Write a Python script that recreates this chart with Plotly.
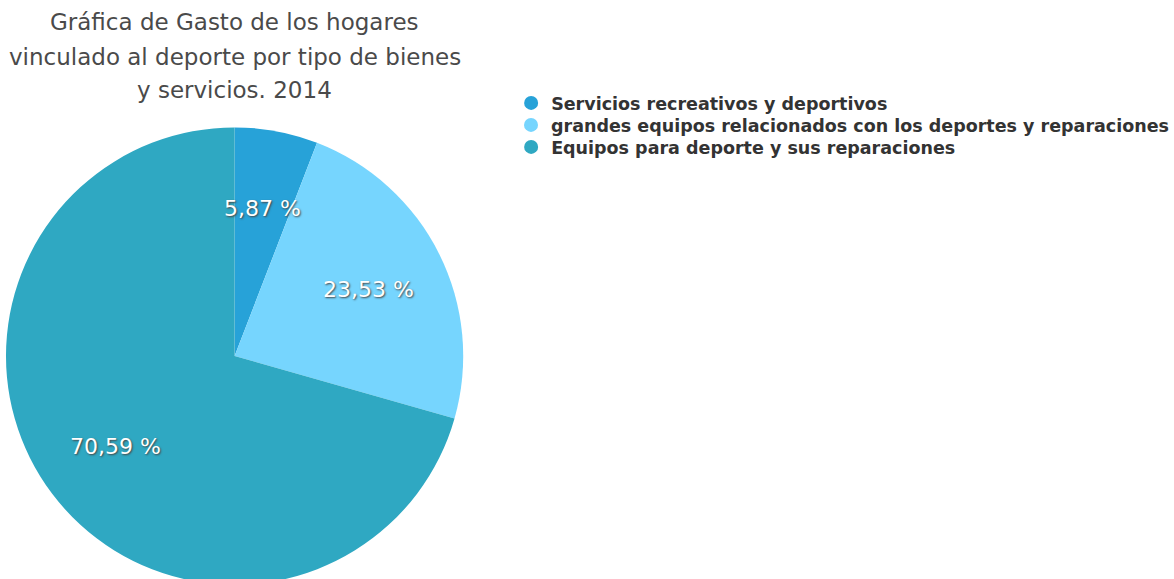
import math
import plotly.graph_objects as go

categories = [
    "Servicios recreativos y deportivos",
    "grandes equipos relacionados con los deportes y reparaciones",
    "Equipos para deporte y sus reparaciones",
]
values = [5.87, 23.53, 70.59]
labels_text = ["5,87 %", "23,53 %", "70,59 %"]
colors = ["#27A2D8", "#76D5FE", "#2FA8C2"]
title_lines = [
    "Gráfica de Gasto de los hogares",
    "vinculado al deporte por tipo de bienes",
    "y servicios. 2014",
]

W, H = 1174, 586
FONT = "DejaVu Sans, Liberation Sans, Arial, sans-serif"

# pie geometry (pixels)
CX, CY, R = 235, 356, 229

fig = go.Figure()
fig.add_trace(go.Pie(
    labels=categories,
    values=values,
    textinfo="none",
    sort=False,
    direction="clockwise",
    rotation=0,
    marker=dict(colors=colors, line=dict(width=0)),
    showlegend=False,
    hoverinfo="label+percent",
    domain=dict(x=[(CX - R) / W, (CX + R) / W], y=[(H - CY - R) / H, (H - CY + R) / H]),
))

# slice labels placed at the angular middle of each slice
total = sum(values)
cum = 0.0
for v, t in zip(values, labels_text):
    mid = (cum + v / 2) / total * 2 * math.pi
    cum += v
    px = CX + 0.655 * R * math.sin(mid)
    py = CY - 0.655 * R * math.cos(mid)
    fig.add_annotation(
        text=t, x=px / W, y=1 - py / H, xref="paper", yref="paper",
        xanchor="center", yanchor="middle", showarrow=False,
        font=dict(family=FONT, size=22, color="white", shadow="1px 1px 2px #444"),
    )

# legend: one legend box per entry, so each row can be positioned
legend_rows = [103, 125, 147]
legend_font = dict(family=FONT, size=17.5, color="#333333", weight="bold")
layout_legends = {}
for i, (name, col, ry) in enumerate(zip(categories, colors, legend_rows)):
    lg = "legend" if i == 0 else f"legend{i + 1}"
    fig.add_trace(go.Scatter(
        x=[None], y=[None], mode="markers", name=name,
        marker=dict(symbol="circle", size=14, color=col),
        showlegend=True, legend=lg,
    ))
    layout_legends[lg] = dict(
        x=512 / W, y=1 - ry / H, xanchor="left", yanchor="middle",
        font=legend_font, itemsizing="trace",
        bgcolor="rgba(0,0,0,0)", borderwidth=0,
    )

title_y = [22, 57, 90]
for line, yy in zip(title_lines, title_y):
    fig.add_annotation(
        text=line, x=235 / W, y=1 - yy / H, xref="paper", yref="paper",
        xanchor="center", yanchor="middle", showarrow=False,
        font=dict(family=FONT, size=23, color="#4a4a4a"),
    )

fig.update_layout(
    width=W, height=H,
    margin=dict(l=0, r=0, t=0, b=0),
    paper_bgcolor="white", plot_bgcolor="white",
    xaxis=dict(visible=False), yaxis=dict(visible=False),
    **layout_legends,
)

fig.write_html(
    "out.html",
    config={"displayModeBar": False},
    post_script="document.body.style.margin='0';document.body.style.overflow='hidden';",
)
